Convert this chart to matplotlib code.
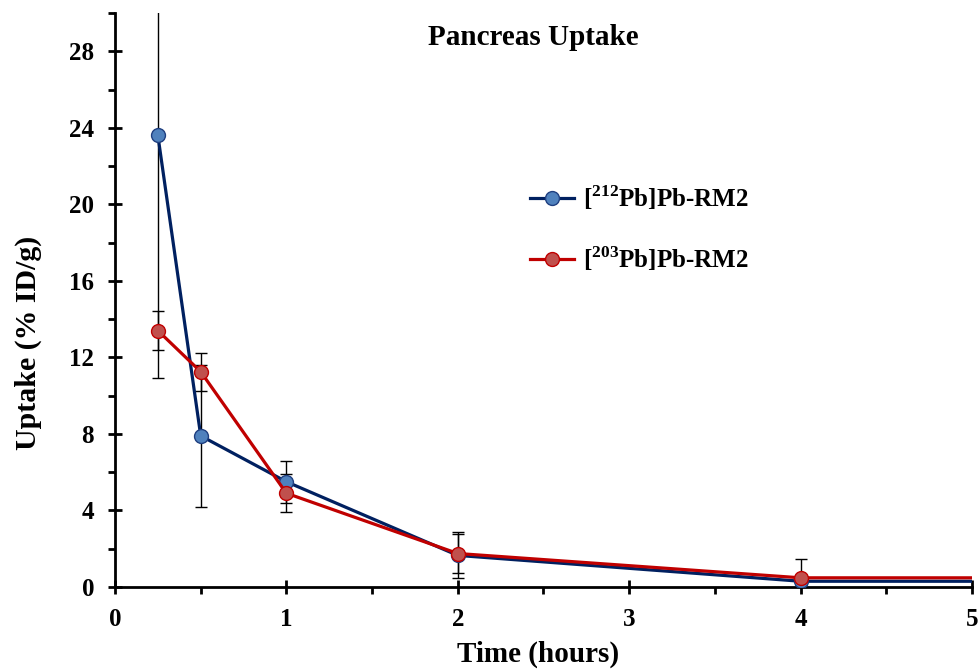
import matplotlib
matplotlib.use("Agg")
import matplotlib.pyplot as plt
from matplotlib.ticker import MultipleLocator

plt.rcParams["font.family"] = ["Liberation Serif", "DejaVu Serif"]
plt.rcParams["font.weight"] = "bold"
plt.rcParams["mathtext.fontset"] = "custom"
plt.rcParams["mathtext.rm"] = "Liberation Serif:bold"
plt.rcParams["mathtext.bf"] = "Liberation Serif:bold"

# time points (hours); last point lies beyond the x range
time_h = [0.25, 0.5, 1, 2, 4, 24]

pb212 = [23.6, 7.9, 5.5, 1.65, 0.3, 0.27]
pb212_err = [12.7, 3.7, 1.1, 1.2, 0.2, 0.1]

pb203 = [13.4, 11.25, 4.9, 1.75, 0.48, 0.46]
pb203_err = [1.0, 1.0, 1.0, 1.0, 1.0, 0.1]

labels = [r"[$^{\mathbf{212}}$Pb]Pb-RM2", r"[$^{\mathbf{203}}$Pb]Pb-RM2"]

fig = plt.figure(figsize=(9.79, 6.70), dpi=100)
ax = fig.add_axes([0.1175, 0.1239, 0.8753, 0.8567])

ax.errorbar(time_h, pb212, yerr=pb212_err, fmt="none", ecolor="black",
            elinewidth=1.0, capsize=4, capthick=1.0, zorder=2)
ax.errorbar(time_h, pb203, yerr=pb203_err, fmt="none", ecolor="black",
            elinewidth=1.0, capsize=4, capthick=1.0, zorder=2)

ax.plot(time_h, pb212, color="#002060", lw=2.3, marker="o", ms=10,
        mfc="#4F81BD", mec="#1F3F80", mew=1.0, label=labels[0], zorder=3)
ax.plot(time_h, pb203, color="#C00000", lw=2.3, marker="o", ms=10,
        mfc="#C0504D", mec="#C00000", mew=1.0, label=labels[1], zorder=4)

ax.set_xlim(0, 5)
ax.set_ylim(0, 30)
ax.xaxis.set_major_locator(MultipleLocator(1))
ax.xaxis.set_minor_locator(MultipleLocator(0.5))
ax.yaxis.set_major_locator(MultipleLocator(4))
ax.yaxis.set_minor_locator(MultipleLocator(2))

for s in ["top", "right"]:
    ax.spines[s].set_visible(False)
for s in ["left", "bottom"]:
    ax.spines[s].set_linewidth(2.0)

ax.tick_params(which="major", direction="inout", length=10, width=2.0,
               labelsize=18)
ax.tick_params(which="minor", direction="out", length=5, width=2.0)
ax.tick_params(axis="y", which="major", pad=10)
ax.tick_params(axis="x", which="major", pad=10)
for lab in ax.get_xticklabels() + ax.get_yticklabels():
    lab.set_fontweight("bold")

ax.set_xlabel("Time (hours)", fontsize=21, fontweight="bold", va="center")
ax.xaxis.set_label_coords(0.494, -0.1167)
ax.set_ylabel("Uptake (% ID/g)", fontsize=21.5, fontweight="bold", va="center")
ax.yaxis.set_label_coords(-0.1015, 0.425)

ax.text(0.488, 0.958, "Pancreas Uptake", transform=ax.transAxes,
        ha="center", va="center", fontsize=21, fontweight="bold")

ax.legend(loc="center left", bbox_to_anchor=(0.47, 0.625), frameon=False,
          handlelength=1.75, labelspacing=1.3, handletextpad=0.36,
          borderpad=0, prop={"weight": "bold", "size": 18})

fig.savefig("out.png", dpi=100)
